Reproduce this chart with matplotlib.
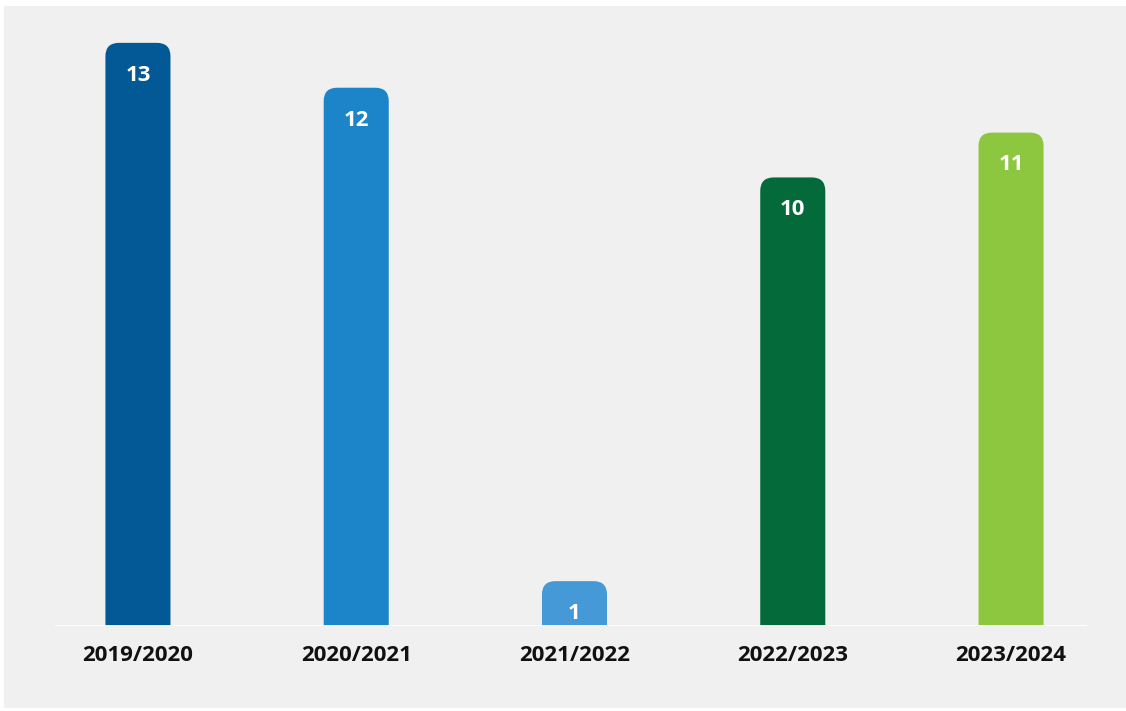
import matplotlib.pyplot as plt
from matplotlib.patches import PathPatch, Rectangle
from matplotlib.path import Path

seasons = ["2019/2020", "2020/2021", "2021/2022", "2022/2023", "2023/2024"]
counts = [13, 12, 1, 10, 11]
colors = ["#025996", "#1c84c8", "#4599d6", "#046a39", "#8dc63f"]

plt.rcParams['font.family'] = ['Open Sans', 'DejaVu Sans']


def top_rounded_bar(x0, w, h, rx, ry):
    # rectangle from the baseline with rounded top corners only
    verts = [(x0, 0), (x0, h - ry), (x0, h), (x0 + rx, h),
             (x0 + w - rx, h), (x0 + w, h), (x0 + w, h - ry),
             (x0 + w, 0), (x0, 0)]
    codes = [Path.MOVETO, Path.LINETO, Path.CURVE3, Path.CURVE3,
             Path.LINETO, Path.CURVE3, Path.CURVE3,
             Path.LINETO, Path.CLOSEPOLY]
    return Path(verts, codes)


fig = plt.figure(figsize=(11.26, 7.11), dpi=100)
fig.patch.set_facecolor("white")
# grey panel behind the chart
fig.patches.append(Rectangle((4 / 1126, 3 / 711), 1122 / 1126, 702 / 711,
                             transform=fig.transFigure, facecolor="#f0f0f0",
                             edgecolor="none", zorder=-10))

ax = fig.add_axes([55 / 1126, 85 / 711, 1032 / 1126, 628 / 711])
ax.set_facecolor("none")
ax.set_xlim(-0.38, 4.348)
ax.set_ylim(0, 14)

bar_w = 0.298
rx = 0.062   # corner radius, x units (~13 px)
ry = 0.30    # corner radius, y units (~13 px)

for i, (v, c) in enumerate(zip(counts, colors)):
    ax.add_patch(PathPatch(top_rounded_bar(i - bar_w / 2, bar_w, v, rx, ry),
                           facecolor=c, edgecolor="none"))
    ax.text(i, v - 0.72, str(v), ha="center", va="center", color="white",
            fontsize=16, fontweight="bold")

ax.axhline(0, color="white", lw=2, zorder=5)
ax.set_xticks(range(len(seasons)))
ax.set_xticklabels(seasons, fontsize=16, fontweight="bold", color="#111111")
ax.tick_params(axis="x", length=0, pad=14)
ax.set_yticks([])
for s in ax.spines.values():
    s.set_visible(False)

fig.savefig("out.png", dpi=100)
